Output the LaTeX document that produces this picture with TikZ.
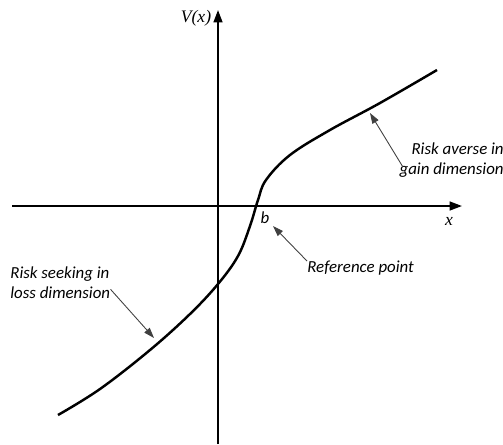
\documentclass[tikz,border=0pt]{standalone}
\usepackage{fontspec}
\setmainfont{Liberation Serif}
\newfontfamily\labelfont{Carlito}
\usetikzlibrary{arrows.meta}

\begin{document}
\begin{tikzpicture}[
  x=0.02cm, y=-0.02cm,
  axis/.style={line width=1.1pt, -{Triangle[length=7pt, width=5pt]}},
  curve/.style={line width=1.4pt, line join=round},
  note/.style={font=\labelfont\itshape\fontsize{9.6}{11.4}\selectfont, inner sep=0pt},
  var/.style={font=\itshape\fontsize{10}{12}\selectfont, inner sep=0pt},
  pointer/.style={black!75, line width=0.5pt, -{Triangle[length=6pt, width=4pt]}}
]
\useasboundingbox (0,0) rectangle (503,444);

% axes
\coordinate (xstart) at (12,206);
\coordinate (xend) at (462,206);
\coordinate (ystart) at (218,444);
\coordinate (yend) at (218,10);
\draw[axis] (xstart) -- (xend);
\draw[axis] (ystart) -- (yend);

\node[var] (Vx) at (196,18) {V(x)};
\node[var] (xlab) at (449,221) {x};
\node[note] (b) at (265,218) {b};

% value function
\draw[curve] plot[smooth, tension=0.6] coordinates {
  (58,415) (100,389) (150,350) (190,314) (218,284) (238,256)
  (250,226) (258,200) (266,180) (290,155) (330,130) (380,103) (437,70)};

% points on the curve
\coordinate (gain) at (370,113);
\coordinate (loss) at (154,338);
\coordinate (ref) at (273,226);

% annotations
\node[note, anchor=north west] (ref label) at (307,261) {Reference point};
\node[note, anchor=north west, align=left] (loss label) at (10,266)
  {Risk seeking in\\loss dimension};
\node[note, anchor=north east, align=right] (gain label) at (504,142)
  {Risk averse in\\gain dimension};

\draw[pointer] (ref label.north west) -- (ref);
\draw[pointer] ([yshift=-4pt]loss label.east) -- (loss);
\draw[pointer] ([xshift=2pt,yshift=-4pt]gain label.west) -- (gain);
\end{tikzpicture}
\end{document}
